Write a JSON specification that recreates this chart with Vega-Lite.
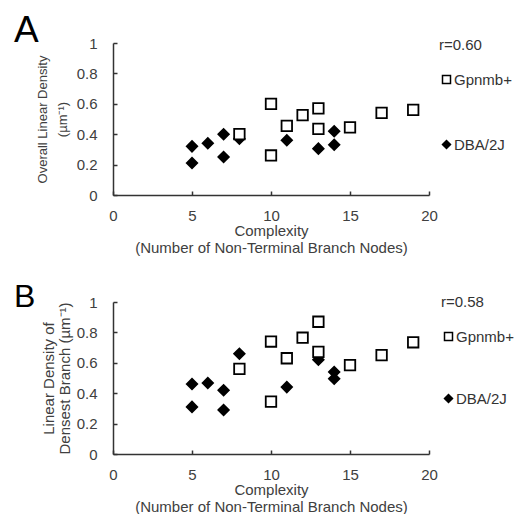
{
  "$schema": "https://vega.github.io/schema/vega-lite/v6.json",
  "background": "white",
  "padding": {"left": 14, "top": 12, "right": 5, "bottom": 0},
  "config": {
    "font": "Liberation Sans",
    "view": {"stroke": null},
    "axis": {
      "grid": false,
      "domainColor": "#333333",
      "domainWidth": 1.5,
      "tickColor": "#333333",
      "tickWidth": 1.5,
      "tickSize": -4,
      "labelColor": "#404040",
      "labelFontSize": 15,
      "labelFlush": false,
      "titleColor": "#404040",
      "titleFontWeight": "normal"
    },
    "legend": {
      "labelFontSize": 15,
      "labelColor": "#333333",
      "titleFontSize": 15,
      "titleFontWeight": "normal",
      "titleColor": "#333333",
      "symbolSize": 64,
      "symbolStrokeWidth": 1.5,
      "labelOffset": 0,
      "padding": 0
    },
    "title": {"fontWeight": "normal", "color": "black", "anchor": "start", "frame": "group", "offset": 0}
  },
  "datasets": {
    "A": [
      {"strain": "DBA/2J", "complexity": 5, "density": 0.32},
      {"strain": "DBA/2J", "complexity": 5, "density": 0.21},
      {"strain": "DBA/2J", "complexity": 6, "density": 0.34},
      {"strain": "DBA/2J", "complexity": 7, "density": 0.40},
      {"strain": "DBA/2J", "complexity": 7, "density": 0.25},
      {"strain": "DBA/2J", "complexity": 8, "density": 0.37},
      {"strain": "DBA/2J", "complexity": 11, "density": 0.36},
      {"strain": "DBA/2J", "complexity": 13, "density": 0.305},
      {"strain": "DBA/2J", "complexity": 14, "density": 0.42},
      {"strain": "DBA/2J", "complexity": 14, "density": 0.33},
      {"strain": "Gpnmb+", "complexity": 8, "density": 0.40},
      {"strain": "Gpnmb+", "complexity": 10, "density": 0.60},
      {"strain": "Gpnmb+", "complexity": 10, "density": 0.26},
      {"strain": "Gpnmb+", "complexity": 11, "density": 0.455},
      {"strain": "Gpnmb+", "complexity": 12, "density": 0.525},
      {"strain": "Gpnmb+", "complexity": 13, "density": 0.57},
      {"strain": "Gpnmb+", "complexity": 13, "density": 0.435},
      {"strain": "Gpnmb+", "complexity": 15, "density": 0.445},
      {"strain": "Gpnmb+", "complexity": 17, "density": 0.54},
      {"strain": "Gpnmb+", "complexity": 19, "density": 0.56}
    ],
    "B": [
      {"strain": "DBA/2J", "complexity": 5, "density": 0.46},
      {"strain": "DBA/2J", "complexity": 5, "density": 0.31},
      {"strain": "DBA/2J", "complexity": 6, "density": 0.467},
      {"strain": "DBA/2J", "complexity": 7, "density": 0.42},
      {"strain": "DBA/2J", "complexity": 7, "density": 0.29},
      {"strain": "DBA/2J", "complexity": 8, "density": 0.66},
      {"strain": "DBA/2J", "complexity": 11, "density": 0.44},
      {"strain": "DBA/2J", "complexity": 13, "density": 0.62},
      {"strain": "DBA/2J", "complexity": 14, "density": 0.54},
      {"strain": "DBA/2J", "complexity": 14, "density": 0.495},
      {"strain": "Gpnmb+", "complexity": 8, "density": 0.56},
      {"strain": "Gpnmb+", "complexity": 10, "density": 0.74},
      {"strain": "Gpnmb+", "complexity": 10, "density": 0.345},
      {"strain": "Gpnmb+", "complexity": 11, "density": 0.63},
      {"strain": "Gpnmb+", "complexity": 12, "density": 0.765},
      {"strain": "Gpnmb+", "complexity": 13, "density": 0.87},
      {"strain": "Gpnmb+", "complexity": 13, "density": 0.672},
      {"strain": "Gpnmb+", "complexity": 15, "density": 0.585},
      {"strain": "Gpnmb+", "complexity": 17, "density": 0.65},
      {"strain": "Gpnmb+", "complexity": 19, "density": 0.735}
    ]
  },
  "bounds": "flush",
  "spacing": 107,
  "resolve": {"scale": {"shape": "independent", "fill": "independent", "stroke": "independent"}, "legend": {"shape": "independent", "fill": "independent", "stroke": "independent"}},
  "vconcat": [
    {
      "title": {"text": "A", "dx": -99, "dy": 18, "fontSize": 37},
      "width": 316,
      "height": 152,
      "data": {"name": "A"},
      "mark": {"type": "point", "strokeWidth": 1.8, "opacity": 1, "size": 110},
      "encoding": {
        "x": {"field": "complexity", "type": "quantitative", "scale": {"domain": [0, 20], "nice": false},
          "axis": {"values": [0, 5, 10, 15, 20], "labelPadding": 17, "title": ["Complexity", "(Number of Non-Terminal Branch Nodes)"], "titleFontSize": 15, "titleLineHeight": 17, "titlePadding": 0}},
        "y": {"field": "density", "type": "quantitative", "scale": {"domain": [0, 1], "nice": false},
          "axis": {"values": [0, 0.2, 0.4, 0.6, 0.8, 1], "format": ".1~f", "labelPadding": 20, "title": ["Overall Linear Density", "(\u00b5m\u207b\u00b9)"], "titleFontSize": 13, "titleLineHeight": 20, "titlePadding": 7}},
        "fill": {"field": "strain", "type": "nominal", "scale": {"domain": ["Gpnmb+", "DBA/2J"], "range": ["white", "black"]},
          "legend": {"title": "r=0.60", "orient": "none", "legendX": 326, "legendY": -5, "titlePadding": 19, "rowPadding": 49}},
        "stroke": {"field": "strain", "type": "nominal", "scale": {"domain": ["Gpnmb+", "DBA/2J"], "range": ["black", "black"]},
          "legend": {"title": "r=0.60", "orient": "none", "legendX": 326, "legendY": -5, "titlePadding": 19, "rowPadding": 49}},
        "shape": {"field": "strain", "type": "nominal", "scale": {"domain": ["Gpnmb+", "DBA/2J"], "range": ["square", "diamond"]},
          "legend": {"title": "r=0.60", "orient": "none", "legendX": 326, "legendY": -5, "titlePadding": 19, "rowPadding": 49}}
      }
    },
    {
      "title": {"text": "B", "dx": -99, "dy": 23, "fontSize": 32},
      "width": 316,
      "height": 152,
      "data": {"name": "B"},
      "mark": {"type": "point", "strokeWidth": 1.8, "opacity": 1, "size": 110},
      "encoding": {
        "x": {"field": "complexity", "type": "quantitative", "scale": {"domain": [0, 20], "nice": false},
          "axis": {"values": [0, 5, 10, 15, 20], "labelPadding": 17, "title": ["Complexity", "(Number of Non-Terminal Branch Nodes)"], "titleFontSize": 15, "titleLineHeight": 17, "titlePadding": 0}},
        "y": {"field": "density", "type": "quantitative", "scale": {"domain": [0, 1], "nice": false},
          "axis": {"values": [0, 0.2, 0.4, 0.6, 0.8, 1], "format": ".1~f", "labelPadding": 20, "title": ["Linear Density of", "Densest Branch (\u00b5m\u207b\u00b9)"], "titleFontSize": 15, "titleLineHeight": 16, "titlePadding": 4}},
        "fill": {"field": "strain", "type": "nominal", "scale": {"domain": ["Gpnmb+", "DBA/2J"], "range": ["white", "black"]},
          "legend": {"title": "r=0.58", "orient": "none", "legendX": 328, "legendY": -7, "titlePadding": 19, "rowPadding": 46}},
        "stroke": {"field": "strain", "type": "nominal", "scale": {"domain": ["Gpnmb+", "DBA/2J"], "range": ["black", "black"]},
          "legend": {"title": "r=0.58", "orient": "none", "legendX": 328, "legendY": -7, "titlePadding": 19, "rowPadding": 46}},
        "shape": {"field": "strain", "type": "nominal", "scale": {"domain": ["Gpnmb+", "DBA/2J"], "range": ["square", "diamond"]},
          "legend": {"title": "r=0.58", "orient": "none", "legendX": 328, "legendY": -7, "titlePadding": 19, "rowPadding": 46}}
      }
    }
  ]
}
